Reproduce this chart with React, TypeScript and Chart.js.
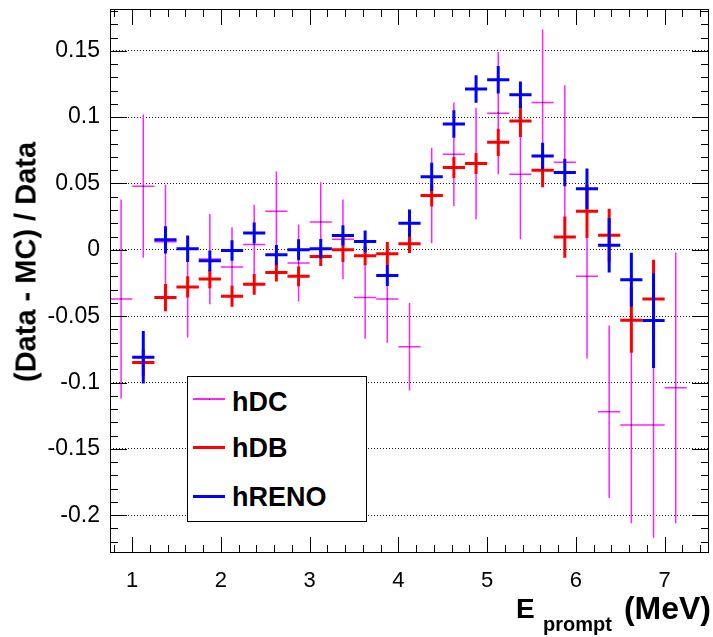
import React, { useEffect, useRef } from 'react';
import { Chart, registerables } from 'chart.js';

Chart.register(...registerables);

// ---- data ----
const binHalfWidth = 0.125;

const dcX = [0.875, 1.125, 1.375, 1.625, 1.875, 2.125, 2.375, 2.625, 2.875, 3.125, 3.375, 3.625, 3.875,
  4.125, 4.375, 4.625, 4.875, 5.125, 5.375, 5.625, 5.875, 6.125, 6.375, 6.625, 6.875, 7.125];
const dcY = [-0.037, 0.048, 0.006, -0.028, -0.007, -0.013, 0.004, 0.029, -0.010, 0.021, 0.008, -0.036, -0.037,
  -0.073, 0.041, 0.072, 0.065, 0.103, 0.057, 0.111, 0.066, -0.020, -0.122, -0.132, -0.132, -0.104];
const dcErr = [0.075, 0.054, 0.043, 0.038, 0.034, 0.030, 0.030, 0.030, 0.029, 0.030, 0.030, 0.031, 0.033,
  0.033, 0.036, 0.039, 0.042, 0.046, 0.049, 0.055, 0.058, 0.062, 0.065, 0.074, 0.085, 0.102];

const dbX = [1.125, 1.375, 1.625, 1.875, 2.125, 2.375, 2.625, 2.875, 3.125, 3.375, 3.625, 3.875,
  4.125, 4.375, 4.625, 4.875, 5.125, 5.375, 5.625, 5.875, 6.125, 6.375, 6.625, 6.875];
const dbY = [-0.085, -0.036, -0.028, -0.022, -0.035, -0.026, -0.017, -0.020, -0.005, 0.000, -0.0045, -0.003,
  0.0045, 0.041, 0.062, 0.065, 0.081, 0.097, 0.060, 0.0096, 0.029, 0.011, -0.053, -0.037];
const dbErr = [0.010, 0.0103, 0.008, 0.0069, 0.0079, 0.0078, 0.0069, 0.0075, 0.0072, 0.0092, 0.0072, 0.0088,
  0.0069, 0.0083, 0.0079, 0.0079, 0.0103, 0.0119, 0.0128, 0.0156, 0.020, 0.020, 0.0246, 0.0296];

const renoX = [1.125, 1.375, 1.625, 1.875, 2.125, 2.375, 2.625, 2.875, 3.125, 3.375, 3.625, 3.875,
  4.125, 4.375, 4.625, 4.875, 5.125, 5.375, 5.625, 5.875, 6.125, 6.375, 6.625, 6.875];
const renoY = [-0.081, 0.0075, 0.0008, -0.0083, -0.0005, 0.0126, -0.0038, 0.000, 0.0008, 0.0108, 0.0063, -0.0194,
  0.0201, 0.055, 0.0948, 0.1212, 0.1282, 0.1169, 0.0707, 0.0583, 0.046, 0.0035, -0.0226, -0.0533];
const renoErr = [0.0198, 0.0103, 0.010, 0.0078, 0.0078, 0.0079, 0.0074, 0.0079, 0.0073, 0.0078, 0.0082, 0.0079,
  0.0103, 0.0107, 0.0104, 0.0103, 0.0103, 0.010, 0.010, 0.0104, 0.0153, 0.0205, 0.0203, 0.0357];

const xTickLabels = [1, 2, 3, 4, 5, 6, 7];
const yTickLabels = [-0.2, -0.15, -0.1, -0.05, 0, 0.05, 0.1, 0.15];
const xMin = 0.75;
const xMax = 7.5;
const yMin = -0.2285;
const yMax = 0.1815;

const legendNames = ['hDC', 'hDB', 'hRENO'];

// ---- helpers ----
const FONT = '"Liberation Sans", Arial, Helvetica, sans-serif';

function hSegs(xs: number[], ys: number[]) {
  const out: any[] = [];
  xs.forEach((x, i) => {
    out.push({ x: x - binHalfWidth, y: ys[i] }, { x: x + binHalfWidth, y: ys[i] }, { x: x + binHalfWidth, y: null });
  });
  return out;
}
function vSegs(xs: number[], ys: number[], es: number[]) {
  const out: any[] = [];
  xs.forEach((x, i) => {
    out.push({ x, y: ys[i] - es[i] }, { x, y: ys[i] + es[i] }, { x, y: null });
  });
  return out;
}
function centers(xs: number[], ys: number[]) {
  return xs.map((x, i) => ({ x, y: ys[i] }));
}

const frameTicks = {
  id: 'frameTicks',
  afterDatasetsDraw(chart: any) {
    const { ctx, chartArea: a, scales } = chart;
    const xs = scales.x;
    const ys = scales.y;
    ctx.save();
    ctx.strokeStyle = '#000';
    ctx.lineWidth = 1;
    ctx.beginPath();
    for (let k = Math.ceil(yMin * 100); k <= Math.floor(yMax * 100); k++) {
      const p = Math.round(ys.getPixelForValue(k / 100)) + 0.5;
      const len = k % 5 === 0 ? 17 : 8;
      ctx.moveTo(a.left, p); ctx.lineTo(a.left + len, p);
      ctx.moveTo(a.right, p); ctx.lineTo(a.right - len, p);
    }
    for (let k = Math.ceil(xMin * 5); k <= Math.floor(xMax * 5); k++) {
      const p = Math.round(xs.getPixelForValue(k / 5)) + 0.5;
      const len = k % 5 === 0 ? 16 : 8;
      ctx.moveTo(p, a.top); ctx.lineTo(p, a.top + len);
      ctx.moveTo(p, a.bottom); ctx.lineTo(p, a.bottom - len);
    }
    ctx.stroke();
    ctx.strokeRect(Math.round(a.left) + 0.5, Math.round(a.top) + 0.5,
      Math.round(a.right - a.left) - 1, Math.round(a.bottom - a.top) - 1);
    ctx.restore();
  },
};

const MAGENTA = '#ff22ff';
const RED = '#ff0000';
const BLUE = '#0000ff';

function seg(data: any[], color: string, width: number, order: number) {
  return {
    type: 'line',
    data,
    borderColor: color,
    backgroundColor: color,
    borderWidth: width,
    borderCapStyle: 'butt',
    pointRadius: 0,
    pointHoverRadius: 0,
    spanGaps: false,
    fill: false,
    tension: 0,
    order,
  };
}
function dots(data: any[], order: number) {
  return {
    type: 'line',
    data,
    showLine: false,
    pointRadius: 0.8,
    pointBorderWidth: 0,
    pointBackgroundColor: 'rgba(0,0,0,0.75)',
    order,
  };
}

export default function App() {
  const ref = useRef<HTMLCanvasElement>(null);

  useEffect(() => {
    if (!ref.current) return;
    const chart = new Chart(ref.current, {
      type: 'line',
      data: {
        datasets: [
          dots(centers(renoX, renoY), 0),
          seg(hSegs(renoX, renoY), BLUE, 3, 1),
          seg(vSegs(renoX, renoY, renoErr), BLUE, 3, 1),
          dots(centers(dbX, dbY), 2),
          seg(hSegs(dbX, dbY), RED, 3, 3),
          seg(vSegs(dbX, dbY, dbErr), RED, 3, 3),
          dots(centers(dcX, dcY), 4),
          seg(hSegs(dcX, dcY), MAGENTA, 1.5, 5),
          seg(vSegs(dcX, dcY, dcErr), MAGENTA, 1.5, 5),
        ] as any,
      },
      options: {
        animation: false,
        responsive: false,
        devicePixelRatio: 1,
        layout: { padding: { top: 9, right: 4, left: 0, bottom: 0 } },
        plugins: { legend: { display: false }, tooltip: { enabled: false } },
        events: [],
        scales: {
          x: {
            type: 'linear',
            min: xMin,
            max: xMax,
            afterBuildTicks: (s: any) => { s.ticks = xTickLabels.map((v) => ({ value: v })); },
            afterFit: (s: any) => { s.height = 84; s.paddingLeft = 0; s.paddingRight = 0; },
            grid: { display: false, drawTicks: false },
            border: { display: false },
            ticks: {
              color: '#000',
              font: { family: FONT, size: 22 },
              padding: 15,
              maxRotation: 0,
              autoSkip: false,
              callback: (v: any) => String(v),
            },
          },
          y: {
            type: 'linear',
            min: yMin,
            max: yMax,
            afterBuildTicks: (s: any) => { s.ticks = yTickLabels.map((v) => ({ value: v })); },
            afterFit: (s: any) => { s.width = 110; s.paddingTop = 0; s.paddingBottom = 0; },
            grid: { display: true, drawTicks: false, color: '#222', lineWidth: 1 },
            border: { display: false, dash: [1, 2] },
            ticks: {
              color: '#000',
              font: { family: FONT, size: 23 },
              padding: 10,
              autoSkip: false,
              callback: (v: any) => String(Math.round(v * 1000) / 1000),
            },
          },
        },
      } as any,
      plugins: [frameTicks],
    });
    return () => chart.destroy();
  }, []);

  const legendItems = [
    { name: legendNames[0], color: MAGENTA, w: 1.5, lineY: 399, top: 389 },
    { name: legendNames[1], color: RED, w: 3, lineY: 447, top: 435 },
    { name: legendNames[2], color: BLUE, w: 3, lineY: 496, top: 484 },
  ];

  return (
    <div style={{ position: 'absolute', left: 0, top: 0, width: 713, height: 637, background: '#fff', fontFamily: FONT, overflow: 'hidden' }}>
      <canvas ref={ref} width={713} height={637} style={{ position: 'absolute', left: 0, top: 0, width: 713, height: 637 }} />
      {/* Y title */}
      <div style={{ position: 'absolute', left: 26, top: 262, transform: 'translate(-50%, -50%) rotate(-90deg)', whiteSpace: 'nowrap', fontWeight: 'bold', fontSize: 29, lineHeight: '29px', color: '#000' }}>
        (Data - MC) / Data
      </div>
      {/* X title */}
      <div style={{ position: 'absolute', left: 516, top: 595, fontWeight: 'bold', fontSize: 28, lineHeight: '28px', color: '#000', whiteSpace: 'nowrap' }}>E</div>
      <div style={{ position: 'absolute', left: 543, top: 614, fontWeight: 'bold', fontSize: 20, lineHeight: '20px', color: '#000', whiteSpace: 'nowrap' }}>prompt</div>
      <div style={{ position: 'absolute', right: 2, top: 592, fontWeight: 'bold', fontSize: 32, lineHeight: '32px', color: '#000', whiteSpace: 'nowrap' }}>(MeV)</div>
      {/* Legend */}
      <div style={{ position: 'absolute', left: 187, top: 376, width: 178, height: 144, border: '1px solid #000', background: '#fff' }} />
      {legendItems.map((it) => (
        <React.Fragment key={it.name}>
          <div style={{ position: 'absolute', left: 193, top: it.lineY - it.w / 2, width: 32, height: it.w, background: it.color }} />
          {it.name === 'hDC' && (
            <div style={{ position: 'absolute', left: 208.5, top: it.lineY - 0.5, width: 1, height: 1, background: 'rgba(0,0,0,0.7)' }} />
          )}
          <div style={{ position: 'absolute', left: 232, top: it.top, fontWeight: 'bold', fontSize: 27, lineHeight: '27px', color: '#000', whiteSpace: 'nowrap' }}>{it.name}</div>
        </React.Fragment>
      ))}
    </div>
  );
}
